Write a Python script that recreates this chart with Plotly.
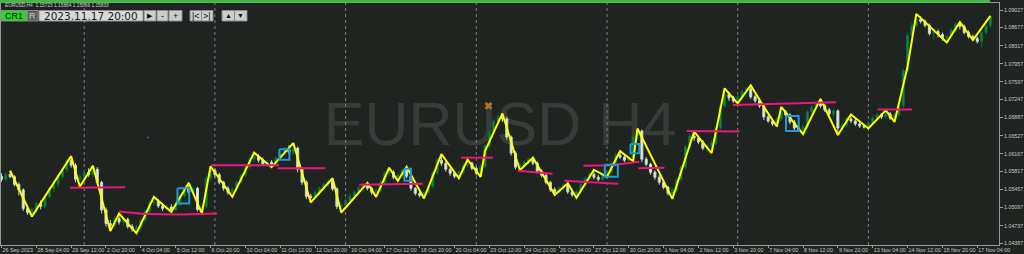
import plotly.graph_objects as go

# ---------------- data ----------------
bars = list(range(228))

opens = [
1.0572,1.0566,1.0576,1.0571,1.0556,1.0545,1.0508,1.0500,1.0506,1.0518,
1.0512,1.0531,1.0548,1.0556,1.0571,1.0585,1.0603,1.0594,1.0566,1.0572,
1.0580,1.0575,1.0586,1.0560,1.0505,1.0478,1.0474,1.0488,1.0481,1.0486,
1.0472,1.0467,1.0470,1.0484,1.0502,1.0520,1.0522,1.0513,1.0508,1.0511,
1.0505,1.0517,1.0533,1.0547,1.0540,1.0548,1.0506,1.0512,1.0568,1.0584,
1.0575,1.0560,1.0548,1.0540,1.0546,1.0560,1.0574,1.0590,1.0606,1.0612,
1.0604,1.0597,1.0600,1.0596,1.0608,1.0618,1.0626,1.0620,1.0628,1.0586,
1.0560,1.0532,1.0530,1.0540,1.0549,1.0556,1.0562,1.0547,1.0512,1.0515,
1.0524,1.0532,1.0540,1.0549,1.0554,1.0548,1.0540,1.0544,1.0560,1.0578,
1.0580,1.0570,1.0574,1.0584,1.0572,1.0548,1.0538,1.0534,1.0540,1.0552,
1.0578,1.0604,1.0598,1.0586,1.0578,1.0572,1.0580,1.0594,1.0598,1.0588,
1.0578,1.0592,1.0632,1.0660,1.0682,1.0690,1.0686,1.0650,1.0618,1.0590,
1.0594,1.0600,1.0606,1.0598,1.0582,1.0574,1.0560,1.0546,1.0540,1.0548,
1.0555,1.0541,1.0535,1.0542,1.0556,1.0568,1.0576,1.0570,1.0566,1.0574,
1.0580,1.0598,1.0614,1.0610,1.0604,1.0610,1.0652,1.0662,1.0606,1.0596,
1.0580,1.0570,1.0560,1.0550,1.0538,1.0545,1.0566,1.0590,1.0630,1.0652,
1.0648,1.0640,1.0628,1.0632,1.0638,1.0668,1.0712,1.0736,1.0728,1.0722,
1.0730,1.0740,1.0746,1.0730,1.0722,1.0712,1.0690,1.0682,1.0676,1.0686,
1.0700,1.0694,1.0680,1.0668,1.0664,1.0670,1.0700,1.0710,1.0718,1.0712,
1.0704,1.0696,1.0702,1.0668,1.0674,1.0686,1.0682,1.0676,1.0672,1.0670,
1.0678,1.0688,1.0694,1.0690,1.0696,1.0688,1.0694,1.0712,1.0782,1.0852,
1.0872,1.0884,1.0880,1.0872,1.0856,1.0860,1.0854,1.0846,1.0850,1.0862,
1.0874,1.0870,1.0858,1.0850,1.0846,1.0840,1.0858,1.0872]

highs = [
1.0578,1.0580,1.0583,1.0574,1.0560,1.0548,1.0514,1.0510,1.0521,1.0524,
1.0535,1.0552,1.0562,1.0575,1.0590,1.0607,1.0612,1.0598,1.0577,1.0585,
1.0588,1.0593,1.0590,1.0563,1.0510,1.0485,1.0492,1.0498,1.0490,1.0490,
1.0477,1.0475,1.0488,1.0506,1.0524,1.0531,1.0526,1.0517,1.0515,1.0516,
1.0521,1.0537,1.0551,1.0559,1.0552,1.0551,1.0515,1.0572,1.0592,1.0588,
1.0579,1.0563,1.0552,1.0550,1.0564,1.0578,1.0594,1.0610,1.0619,1.0616,
1.0609,1.0605,1.0604,1.0612,1.0622,1.0630,1.0634,1.0638,1.0631,1.0590,
1.0564,1.0537,1.0545,1.0552,1.0560,1.0566,1.0568,1.0550,1.0520,1.0528,
1.0537,1.0545,1.0553,1.0557,1.0559,1.0551,1.0548,1.0564,1.0582,1.0589,
1.0584,1.0578,1.0588,1.0591,1.0575,1.0551,1.0542,1.0544,1.0556,1.0582,
1.0608,1.0616,1.0602,1.0590,1.0582,1.0584,1.0598,1.0605,1.0601,1.0592,
1.0596,1.0636,1.0664,1.0686,1.0694,1.0697,1.0690,1.0653,1.0622,1.0600,
1.0604,1.0609,1.0609,1.0601,1.0586,1.0577,1.0563,1.0550,1.0552,1.0558,
1.0558,1.0545,1.0546,1.0560,1.0572,1.0580,1.0585,1.0574,1.0578,1.0584,
1.0602,1.0618,1.0622,1.0614,1.0613,1.0656,1.0667,1.0665,1.0610,1.0599,
1.0584,1.0574,1.0564,1.0553,1.0549,1.0570,1.0594,1.0634,1.0656,1.0661,
1.0652,1.0644,1.0636,1.0644,1.0672,1.0716,1.0747,1.0740,1.0732,1.0734,
1.0744,1.0750,1.0753,1.0734,1.0726,1.0715,1.0694,1.0686,1.0690,1.0710,
1.0704,1.0697,1.0684,1.0672,1.0674,1.0704,1.0714,1.0722,1.0726,1.0716,
1.0708,1.0706,1.0705,1.0678,1.0690,1.0695,1.0686,1.0680,1.0676,1.0682,
1.0692,1.0698,1.0698,1.0703,1.0700,1.0698,1.0716,1.0786,1.0858,1.0878,
1.0895,1.0890,1.0884,1.0876,1.0866,1.0864,1.0858,1.0854,1.0866,1.0878,
1.0879,1.0874,1.0862,1.0854,1.0850,1.0862,1.0876,1.0891]

lows = [
1.0561,1.0563,1.0568,1.0552,1.0534,1.0503,1.0495,1.0492,1.0499,1.0506,
1.0509,1.0527,1.0541,1.0551,1.0566,1.0580,1.0589,1.0560,1.0551,1.0568,
1.0571,1.0570,1.0555,1.0498,1.0472,1.0463,1.0470,1.0476,1.0474,1.0468,
1.0462,1.0459,1.0465,1.0480,1.0498,1.0514,1.0509,1.0503,1.0504,1.0501,
1.0502,1.0513,1.0529,1.0535,1.0536,1.0502,1.0498,1.0508,1.0562,1.0570,
1.0556,1.0543,1.0535,1.0531,1.0542,1.0556,1.0570,1.0586,1.0600,1.0599,
1.0593,1.0592,1.0590,1.0593,1.0604,1.0614,1.0616,1.0615,1.0580,1.0555,
1.0527,1.0520,1.0526,1.0534,1.0544,1.0551,1.0543,1.0507,1.0500,1.0508,
1.0519,1.0528,1.0535,1.0544,1.0544,1.0535,1.0531,1.0540,1.0556,1.0573,
1.0566,1.0563,1.0570,1.0568,1.0543,1.0534,1.0530,1.0528,1.0536,1.0548,
1.0574,1.0593,1.0581,1.0573,1.0568,1.0568,1.0576,1.0590,1.0584,1.0574,
1.0571,1.0588,1.0628,1.0655,1.0676,1.0680,1.0645,1.0613,1.0586,1.0584,
1.0589,1.0595,1.0594,1.0578,1.0570,1.0556,1.0541,1.0535,1.0537,1.0543,
1.0537,1.0531,1.0529,1.0538,1.0552,1.0564,1.0566,1.0562,1.0562,1.0571,
1.0576,1.0594,1.0606,1.0600,1.0602,1.0602,1.0645,1.0600,1.0592,1.0575,
1.0565,1.0555,1.0546,1.0534,1.0527,1.0540,1.0562,1.0586,1.0626,1.0642,
1.0636,1.0624,1.0621,1.0618,1.0634,1.0664,1.0708,1.0722,1.0718,1.0717,
1.0726,1.0736,1.0726,1.0718,1.0708,1.0684,1.0678,1.0672,1.0671,1.0682,
1.0690,1.0676,1.0664,1.0660,1.0656,1.0666,1.0696,1.0706,1.0708,1.0700,
1.0692,1.0690,1.0654,1.0662,1.0670,1.0678,1.0672,1.0668,1.0667,1.0667,
1.0674,1.0684,1.0686,1.0686,1.0684,1.0680,1.0690,1.0708,1.0778,1.0848,
1.0868,1.0876,1.0868,1.0852,1.0842,1.0848,1.0842,1.0838,1.0846,1.0858,
1.0864,1.0854,1.0846,1.0843,1.0836,1.0827,1.0854,1.0868]

closes = [
1.0566,1.0576,1.0571,1.0556,1.0545,1.0508,1.0500,1.0506,1.0518,1.0512,
1.0531,1.0548,1.0556,1.0571,1.0585,1.0603,1.0594,1.0566,1.0572,1.0580,
1.0575,1.0586,1.0560,1.0505,1.0478,1.0474,1.0488,1.0481,1.0486,1.0472,
1.0467,1.0470,1.0484,1.0502,1.0520,1.0522,1.0513,1.0508,1.0511,1.0505,
1.0517,1.0533,1.0547,1.0540,1.0548,1.0506,1.0512,1.0568,1.0584,1.0575,
1.0560,1.0548,1.0540,1.0546,1.0560,1.0574,1.0590,1.0606,1.0612,1.0604,
1.0597,1.0600,1.0596,1.0608,1.0618,1.0626,1.0620,1.0628,1.0586,1.0560,
1.0532,1.0530,1.0540,1.0549,1.0556,1.0562,1.0547,1.0512,1.0515,1.0524,
1.0532,1.0540,1.0549,1.0554,1.0548,1.0540,1.0544,1.0560,1.0578,1.0580,
1.0570,1.0574,1.0584,1.0572,1.0548,1.0538,1.0534,1.0540,1.0552,1.0578,
1.0604,1.0598,1.0586,1.0578,1.0572,1.0580,1.0594,1.0598,1.0588,1.0578,
1.0592,1.0632,1.0660,1.0682,1.0690,1.0686,1.0650,1.0618,1.0590,1.0594,
1.0600,1.0606,1.0598,1.0582,1.0574,1.0560,1.0546,1.0540,1.0548,1.0555,
1.0541,1.0535,1.0542,1.0556,1.0568,1.0576,1.0570,1.0566,1.0574,1.0580,
1.0598,1.0614,1.0610,1.0604,1.0610,1.0652,1.0662,1.0606,1.0596,1.0580,
1.0570,1.0560,1.0550,1.0538,1.0545,1.0566,1.0590,1.0630,1.0652,1.0648,
1.0640,1.0628,1.0632,1.0638,1.0668,1.0712,1.0736,1.0728,1.0722,1.0730,
1.0740,1.0746,1.0730,1.0722,1.0712,1.0690,1.0682,1.0676,1.0686,1.0700,
1.0694,1.0680,1.0668,1.0664,1.0670,1.0700,1.0710,1.0718,1.0712,1.0704,
1.0696,1.0702,1.0668,1.0674,1.0686,1.0682,1.0676,1.0672,1.0670,1.0678,
1.0688,1.0694,1.0690,1.0696,1.0688,1.0694,1.0712,1.0782,1.0852,1.0872,
1.0884,1.0880,1.0872,1.0856,1.0860,1.0854,1.0846,1.0850,1.0862,1.0874,
1.0870,1.0858,1.0850,1.0846,1.0840,1.0858,1.0872,1.0890]

# ZigZag indicator pivots (bar index, price)
zz_bar = [2,7,16,18,21,25,27,31,35,39,43,46,48,53,58,62,67,71,76,78,84,86,89,91,93,
          97,101,105,107,110,111,115,119,122,127,130,132,136,139,142,145,146,154,159,
          163,166,169,172,175,178,179,184,188,192,195,199,203,205,208,210,217,220,223,227]
zz_price = [1.0583,1.0492,1.0612,1.0551,1.0593,1.0463,1.0498,1.0459,1.0531,1.0501,
            1.0559,1.0498,1.0592,1.0531,1.0619,1.0590,1.0638,1.0520,1.0568,1.0500,
            1.0559,1.0531,1.0589,1.0563,1.0591,1.0528,1.0616,1.0568,1.0605,1.0571,
            1.0622,1.0697,1.0584,1.0609,1.0535,1.0558,1.0529,1.0585,1.0571,1.0622,
            1.0602,1.0667,1.0527,1.0661,1.0618,1.0747,1.0717,1.0753,1.0710,1.0671,
            1.0710,1.0656,1.0726,1.0654,1.0695,1.0667,1.0703,1.0680,1.0790,1.0895,
            1.0838,1.0879,1.0843,1.0891]

# magenta level segments
seg_bar0 = [15.8, 27.0, 32.8, 41.2, 48.1, 63.4, 82.1, 105.5, 118.5, 129.2, 133.6, 139.9, 146.2, 157.3, 167.9, 201.1]
seg_bar1 = [28.4, 32.8, 41.2, 49.5, 63.7, 74.3, 96.7, 112.8, 126.5, 141.5, 139.9, 146.4, 152.2, 169.4, 191.6, 209.0]
seg_p0 = [1.0549, 1.0502, 1.0497, 1.0496, 1.0594, 1.0588, 1.0555, 1.0609, 1.0583, 1.0563, 1.0593, 1.0594, 1.0588, 1.0662, 1.0714, 1.0705]
seg_p1 = [1.0550, 1.0497, 1.0496, 1.0498, 1.0594, 1.0588, 1.0557, 1.0609, 1.0577, 1.0557, 1.0594, 1.0601, 1.0589, 1.0661, 1.0719, 1.0705]

# blue boxes
box_bar0 = [40.4, 63.8, 92.5, 138.5, 144.4, 180.1]
box_bar1 = [43.1, 66.1, 94.0, 141.5, 146.4, 183.0]
box_top = [1.0548, 1.0626, 1.0587, 1.0595, 1.0636, 1.0692]
box_bot = [1.0518, 1.0605, 1.0563, 1.0571, 1.0618, 1.0662]

# markers
cross_bar, cross_price = [111.8], [1.0712]
dot_bar, dot_price = [33.6], [1.0649]

# weekly separators (Monday 00:00 bars)
sep_bars = [19, 49, 79, 109, 139, 169, 199]

# axis labels
xtick_bars = list(range(0, 225, 8))
xtick_text = ["26 Sep 2023", "28 Sep 04:00", "29 Sep 12:00", "2 Oct 20:00", "4 Oct 04:00",
              "5 Oct 12:00", "6 Oct 20:00", "10 Oct 04:00", "11 Oct 12:00", "12 Oct 20:00",
              "16 Oct 04:00", "17 Oct 12:00", "18 Oct 20:00", "20 Oct 04:00", "23 Oct 12:00",
              "24 Oct 20:00", "26 Oct 04:00", "27 Oct 12:00", "30 Oct 20:00", "1 Nov 04:00",
              "2 Nov 12:00", "3 Nov 20:00", "7 Nov 04:00", "8 Nov 12:00", "9 Nov 20:00",
              "13 Nov 04:00", "14 Nov 12:00", "15 Nov 20:00", "17 Nov 04:00"]
ytick_vals = [1.09027, 1.08677, 1.08317, 1.07957, 1.07597, 1.07247, 1.06887,
              1.06527, 1.06167, 1.05817, 1.05457, 1.05097, 1.04737, 1.04387]

symbol_text = "EURUSD H4"
info_text = "EURUSD,H4  1.15723 1.15884 1.15066 1.15833"
date_text = "2023.11.17 20:00"

assert len(opens) == len(highs) == len(lows) == len(closes) == len(bars)

# ---------------- figure ----------------
BG = "#1f2421"
W, H = 1024, 254
ML, MR, MT, MB = 1, 25, 3, 9
PW, PH = W - ML - MR, H - MT - MB


def PX(x):
    return (x - ML) / PW


def PY(y):
    return (H - MB - y) / PH


fig = go.Figure()

fig.add_trace(go.Candlestick(
    x=bars, open=opens, high=highs, low=lows, close=closes,
    increasing=dict(line=dict(color="#0b6e36", width=1), fillcolor="#108f50"),
    decreasing=dict(line=dict(color="#c9dccc", width=1), fillcolor="#e6efe6"),
    whiskerwidth=0, showlegend=False, hoverinfo="skip"))

fig.add_trace(go.Scatter(x=zz_bar, y=zz_price, mode="lines",
                         line=dict(color="#ffff00", width=2), showlegend=False, hoverinfo="skip"))

sx, sy = [], []
for a, b, p, q in zip(seg_bar0, seg_bar1, seg_p0, seg_p1):
    sx += [a, b, None]
    sy += [p, q, None]
fig.add_trace(go.Scatter(x=sx, y=sy, mode="lines",
                         line=dict(color="#e8177e", width=2), showlegend=False, hoverinfo="skip"))

bx, by = [], []
for a, b, t, u in zip(box_bar0, box_bar1, box_top, box_bot):
    bx += [a, b, b, a, a, None]
    by += [t, t, u, u, t, None]
fig.add_trace(go.Scatter(x=bx, y=by, mode="lines",
                         line=dict(color="#1e9ad6", width=2), showlegend=False, hoverinfo="skip"))

fig.add_trace(go.Scatter(x=cross_bar, y=cross_price, mode="markers",
                         marker=dict(symbol="x", size=7, color="#b86e2a"),
                         showlegend=False, hoverinfo="skip"))
fig.add_trace(go.Scatter(x=dot_bar, y=dot_price, mode="markers",
                         marker=dict(symbol="circle", size=2, color="#c0307a"),
                         showlegend=False, hoverinfo="skip"))

shapes = []
# watermark (below data)
shapes.append(dict(type="rect", xref="paper", yref="paper",
                   x0=PX(270), x1=PX(730), y0=PY(147), y1=PY(88),
                   line=dict(width=0), fillcolor="rgba(0,0,0,0)", layer="below",
                   label=dict(text=symbol_text, textposition="middle center",
                              font=dict(size=61, color="#373c39",
                                        family="Liberation Sans, Arial"))))
# period separators
for s in sep_bars:
    shapes.append(dict(type="line", xref="x", yref="paper", x0=s, x1=s, y0=0, y1=1,
                       line=dict(color="#7e7e7e", width=1, dash="dot"), layer="below"))
# top green bar
shapes.append(dict(type="rect", xref="paper", yref="paper",
                   x0=PX(0), x1=PX(990), y0=PY(2.5), y1=PY(0),
                   line=dict(width=0), fillcolor="#3cbc3c", layer="above"))

annotations = []
annotations.append(dict(xref="paper", yref="paper", x=PX(3), y=PY(5.5), xanchor="left",
                        yanchor="middle", text=info_text, showarrow=False,
                        font=dict(size=4.8, color="#d0d0d0", family="Liberation Sans, Arial")))


def button(x0, x1, y0, y1, fill, text, tcolor, size, family="Liberation Sans, Arial"):
    shapes.append(dict(type="rect", xref="paper", yref="paper",
                       x0=PX(x0), x1=PX(x1), y0=PY(y1), y1=PY(y0),
                       line=dict(color="#8a8a8a", width=1), fillcolor=fill, layer="above"))
    annotations.append(dict(xref="paper", yref="paper", x=PX((x0 + x1) / 2),
                            y=PY((y0 + y1) / 2), xanchor="center", yanchor="middle",
                            text=text, showarrow=False,
                            font=dict(size=size, color=tcolor, family=family)))


button(1, 27, 10.5, 21, "#2fd02f", "CR1", "#0b2a0b", 9)
button(27.5, 38, 10.5, 21, "#5b5e5c", "R", "#cfcfcf", 9)
button(39, 143, 10.5, 21, "#d9d9d9", date_text, "#1a1a1a", 10.5, "DejaVu Sans")
button(144, 156, 10.5, 21, "#cdcdcd", "▶", "#111111", 7)
button(157, 168, 10.5, 21, "#cdcdcd", "-", "#111111", 9)
button(169, 182, 10.5, 21, "#cdcdcd", "+", "#111111", 9)
button(190, 201.5, 10.5, 21, "#cdcdcd", "|&lt;", "#111111", 9)
button(201.5, 213, 10.5, 21, "#cdcdcd", "&gt;|", "#111111", 9)
button(222, 234.5, 10.5, 21, "#cdcdcd", "▲", "#111111", 7)
button(234.5, 247, 10.5, 21, "#cdcdcd", "▼", "#111111", 7)

x_lo = -0.1
x_hi = x_lo + PW / 4.3565
fig.update_layout(
    width=W, height=H,
    margin=dict(l=ML, r=MR, t=MT, b=MB, pad=0),
    paper_bgcolor=BG, plot_bgcolor=BG,
    shapes=shapes, annotations=annotations,
    showlegend=False,
    xaxis=dict(range=[x_lo, x_hi], tickmode="array", tickvals=xtick_bars, ticktext=xtick_text,
               ticklabelposition="outside right", tickangle=0, ticks="outside", ticklen=2,
               tickcolor="#9a9a9a", tickfont=dict(size=5.4, color="#c8c8c8",
                                                  family="Liberation Sans, Arial"),
               showgrid=False, zeroline=False, showline=True, mirror=True,
               linecolor="#9a9a9a", linewidth=1, rangeslider=dict(visible=False),
               fixedrange=True),
    yaxis=dict(range=[1.043532, 1.091662], side="right", tickmode="array",
               tickvals=ytick_vals, ticktext=[f"{v:.5f}" for v in ytick_vals],
               ticks="outside", ticklen=3, tickcolor="#9a9a9a",
               tickfont=dict(size=5.3, color="#c8c8c8", family="Liberation Sans, Arial"),
               showgrid=False, zeroline=False, showline=True, mirror=True,
               linecolor="#9a9a9a", linewidth=1, fixedrange=True),
    boxgap=0.35,
)

fig.write_html("out.html", config=dict(displayModeBar=False))
